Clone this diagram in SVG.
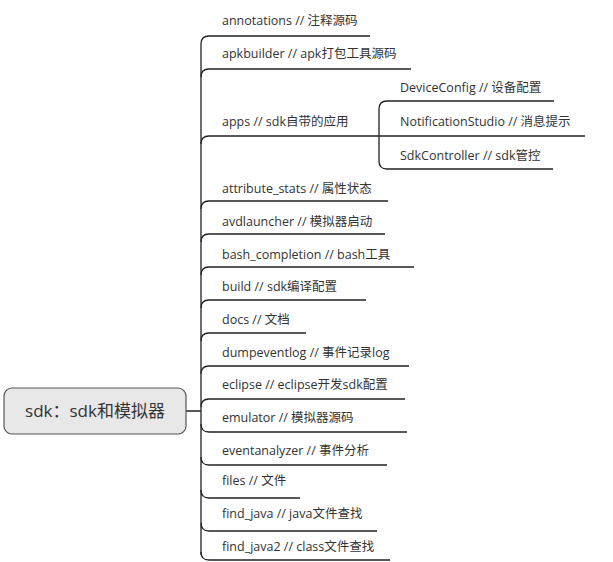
<svg xmlns="http://www.w3.org/2000/svg" width="613" height="562" viewBox="0 0 613 562">
<style>
text{font-family:"Open Sans","Noto Sans CJK SC",sans-serif;font-size:12.5px;fill:#333}
.l{fill:none;stroke:#222;stroke-width:1.3}
</style>
<rect width="613" height="562" fill="#fff"/>
<g id="connectors">
<path class="l" d="M201,44 V555 M186,411 H201"/>
<path class="l" d="M201,44 Q201,36 209,36 H370"/>
<path class="l" d="M201,77 Q201,69 209,69 H411"/>
<path class="l" d="M201,144 Q201,136 209,136 H585"/>
<path class="l" d="M201,209 Q201,201 209,201 H388"/>
<path class="l" d="M201,242 Q201,234 209,234 H385"/>
<path class="l" d="M201,275 Q201,267 209,267 H414"/>
<path class="l" d="M201,308 Q201,300 209,300 H366"/>
<path class="l" d="M201,341 Q201,333 209,333 H306"/>
<path class="l" d="M201,374 Q201,366 209,366 H409"/>
<path class="l" d="M201,407 Q201,399 209,399 H405"/>
<path class="l" d="M201,424 Q201,432 209,432 H407"/>
<path class="l" d="M201,457 Q201,465 209,465 H387"/>
<path class="l" d="M201,490 Q201,498 209,498 H300"/>
<path class="l" d="M201,523 Q201,531 209,531 H377"/>
<path class="l" d="M201,552 Q201,560 209,560 H390"/>
<path class="l" d="M379,109 Q379,101 387,101 H554 M379,109 V161 Q379,169 387,169 H553"/>
</g>
<g id="root"><rect x="4" y="388" width="182" height="46" rx="8" fill="#e8e8e8" stroke="#555" stroke-width="1.2"/><text x="95" y="417" text-anchor="middle" style="font-size:17px">sdk：sdk和模拟器</text></g>
<g id="n1"><text x="222" y="25">annotations // 注释源码</text></g>
<g id="n2"><text x="222" y="58">apkbuilder // apk打包工具源码</text></g>
<g id="n3"><text x="222" y="126">apps // sdk自带的应用</text></g>
<g id="n3a"><text x="400" y="92">DeviceConfig // 设备配置</text></g>
<g id="n3b"><text x="400" y="126">NotificationStudio // 消息提示</text></g>
<g id="n3c"><text x="400" y="160">SdkController // sdk管控</text></g>
<g id="n4"><text x="222" y="193">attribute_stats // 属性状态</text></g>
<g id="n5"><text x="222" y="226">avdlauncher // 模拟器启动</text></g>
<g id="n6"><text x="222" y="259">bash_completion // bash工具</text></g>
<g id="n7"><text x="222" y="291">build // sdk编译配置</text></g>
<g id="n8"><text x="222" y="324">docs // 文档</text></g>
<g id="n9"><text x="222" y="357">dumpeventlog // 事件记录log</text></g>
<g id="n10"><text x="222" y="389">eclipse // eclipse开发sdk配置</text></g>
<g id="n11"><text x="222" y="422">emulator // 模拟器源码</text></g>
<g id="n12"><text x="222" y="455">eventanalyzer // 事件分析</text></g>
<g id="n13"><text x="222" y="485">files // 文件</text></g>
<g id="n14"><text x="222" y="518">find_java // java文件查找</text></g>
<g id="n15"><text x="222" y="551">find_java2 // class文件查找</text></g>
</svg>
